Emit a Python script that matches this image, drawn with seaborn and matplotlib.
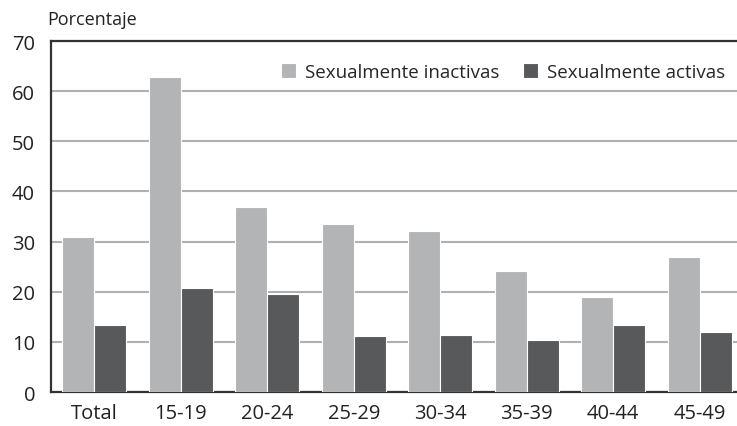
import matplotlib
matplotlib.use('Agg')
import matplotlib.pyplot as plt
import seaborn as sns
import pandas as pd

# data
grupos = ['Total', '15-19', '20-24', '25-29', '30-34', '35-39', '40-44', '45-49']
inactivas = [30.9, 62.8, 36.8, 33.6, 32.1, 24.1, 18.9, 26.9]
activas = [13.4, 20.7, 19.6, 11.2, 11.4, 10.3, 13.4, 12.0]
series = ['Sexualmente inactivas', 'Sexualmente activas']
colores = ['#b3b4b6', '#58595b']

df = pd.DataFrame({
    'grupo': grupos * 2,
    'valor': inactivas + activas,
    'serie': [series[0]] * len(grupos) + [series[1]] * len(grupos),
})

sns.set_theme(style='white')
plt.rcParams['font.family'] = ['Open Sans', 'DejaVu Sans']

fig = plt.figure(figsize=(7.37, 4.27), dpi=100)
ax = fig.add_axes([0.0692, 0.0796, 0.9308, 0.822])

sns.barplot(data=df, x='grupo', y='valor', hue='serie', palette=colores,
            width=0.74, saturation=1, edgecolor='white', linewidth=0.8,
            ax=ax, zorder=3)

ax.set_ylim(0, 70)
ax.set_xlim(-0.5, 7.43)
ax.set_yticks(range(0, 71, 10))
ax.yaxis.grid(True, color='#b0b0b0', linewidth=1.5, zorder=0)
ax.set_axisbelow(True)
ax.set_xlabel('')
ax.set_ylabel('')
ax.tick_params(axis='both', length=0, labelsize=14.5, colors='#222222')
ax.tick_params(axis='y', pad=11.5)
ax.tick_params(axis='x', pad=8)
for s in ['left', 'bottom', 'top']:
    ax.spines[s].set_color('#333333')
    ax.spines[s].set_linewidth(1.6)
ax.spines['right'].set_visible(False)

ax.legend(loc='upper right', bbox_to_anchor=(1.007, 0.985), ncol=2, frameon=False,
          fontsize=13.5, handlelength=0.8, handleheight=0.8, handletextpad=0.45,
          columnspacing=1.3)

fig.text(0.064, 0.953, 'Porcentaje', fontsize=13, color='#222222', va='center')

fig.savefig('out.png', dpi=100)
